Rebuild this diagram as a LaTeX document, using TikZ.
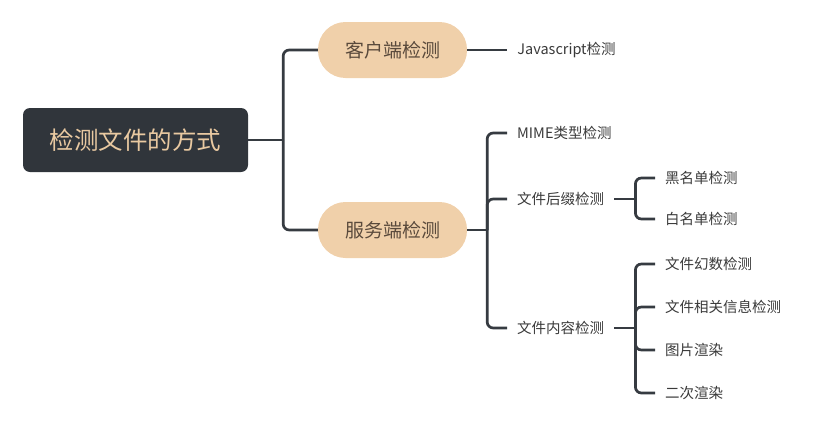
\documentclass[tikz,border=0pt]{standalone}
\usepackage{fontspec}
\newfontfamily\cjk{Noto Sans CJK SC}
\usepackage{xcolor}
\usepackage{tikz}
\usetikzlibrary{positioning}

\definecolor{rootfill}{HTML}{30353B}
\definecolor{roottext}{HTML}{E9C9A1}
\definecolor{pillfill}{HTML}{F0D0AA}
\definecolor{pilltext}{HTML}{5A4A3C}
\definecolor{linecol}{HTML}{363B41}
\definecolor{leaftext}{HTML}{3A3A3A}

\begin{document}
\begin{tikzpicture}[
    x=1pt, y=-1pt,
    rootnode/.style={rectangle, fill=rootfill, rounded corners=7pt, minimum width=225pt, minimum height=64pt, text=roottext, font=\cjk\fontsize{24.5}{28}\selectfont},
    pill/.style={rectangle, fill=pillfill, rounded corners=27.5pt, minimum width=149pt, minimum height=56pt, text=pilltext, font=\cjk\fontsize{19}{22}\selectfont},
    leaf/.style={anchor=west, inner xsep=10pt, inner ysep=2pt, text=leaftext, font=\cjk\fontsize{14.5}{17}\selectfont},
    branch/.style={draw=linecol, line width=2.7pt, rounded corners=6pt}
]
\useasboundingbox (0,0) rectangle (814,434);

\node[rootnode] (root) at (135.5,140) {检测文件的方式};
\node[pill] (client) at (392.5,50) {客户端检测};
\node[pill] (server) at (392.5,230) {服务端检测};

\node[leaf, right=40pt of client] (js) {Javascript检测};
\node[leaf] (mime) at (507,133) {MIME类型检测};
\node[leaf] (suffix) at (507,199) {文件后缀检测};
\node[leaf] (content) at (507,328) {文件内容检测};

\node[leaf] (black) at (655,178) {黑名单检测};
\node[leaf] (white) at (655,219) {白名单检测};
\node[leaf] (magic) at (655,264) {文件幻数检测};
\node[leaf] (info) at (655,307) {文件相关信息检测};
\node[leaf] (render) at (655,350) {图片渲染};
\node[leaf] (rerender) at (655,393) {二次渲染};

\coordinate[right=35pt of root.east] (rootHub);
\coordinate[right=20pt of server.east] (serverHub);
\coordinate[right=21pt of suffix.east] (suffixHub);
\coordinate[right=21pt of content.east] (contentHub);

\draw[branch] (root) -- (rootHub);
\draw[branch] (rootHub) |- (client);
\draw[branch] (rootHub) |- (server);
\draw[branch] (client) -- (js);

\draw[branch] (server) -- (serverHub);
\foreach \leafname in {mime,suffix,content}
    \draw[branch] (serverHub) |- (\leafname);

\draw[branch] (suffix) -- (suffixHub);
\foreach \leafname in {black,white}
    \draw[branch] (suffixHub) |- (\leafname);

\draw[branch] (content) -- (contentHub);
\foreach \leafname in {magic,info,render,rerender}
    \draw[branch] (contentHub) |- (\leafname);

\end{tikzpicture}
\end{document}
